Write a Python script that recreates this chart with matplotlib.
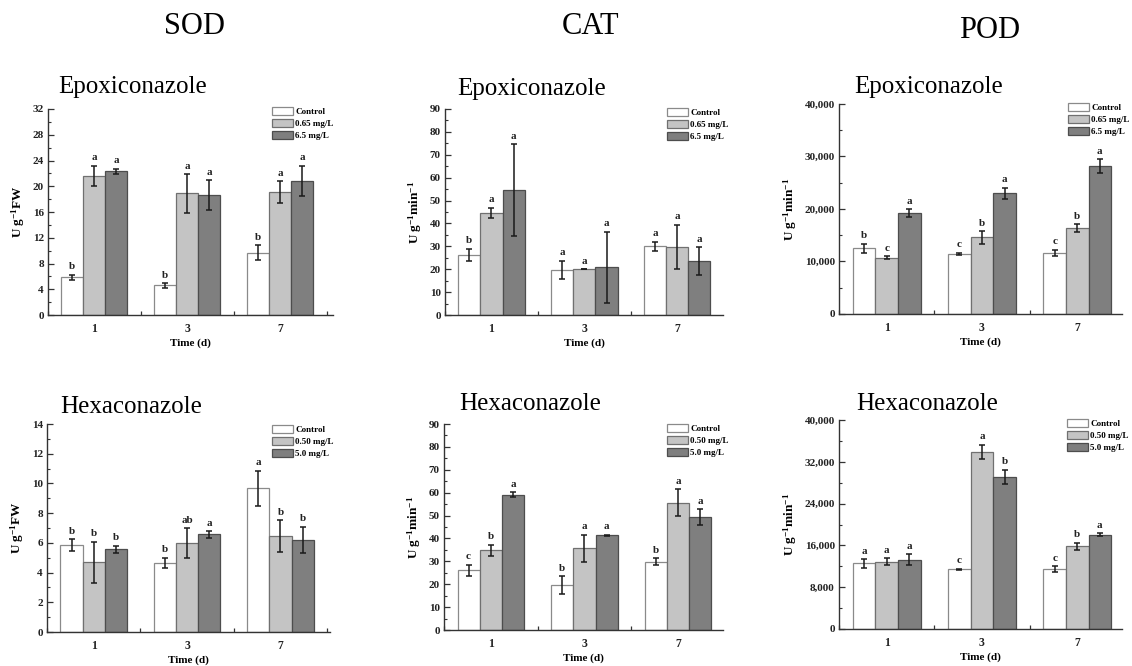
import numpy as np
import matplotlib
matplotlib.use("Agg")
import matplotlib.pyplot as plt
from matplotlib.ticker import MultipleLocator, FuncFormatter

plt.rcParams['font.family'] = ['Liberation Serif', 'DejaVu Serif']
plt.rcParams['mathtext.fontset'] = 'custom'
plt.rcParams['mathtext.rm'] = 'Liberation Serif'
plt.rcParams['mathtext.bf'] = 'Liberation Serif:bold'
plt.rcParams['mathtext.it'] = 'Liberation Serif:italic'

# ---- data -------------------------------------------------------------
days = ['1', '3', '7']
epo_labels = ['Control', '0.65 mg/L', '6.5 mg/L']
hex_labels = ['Control', '0.50 mg/L', '5.0 mg/L']

sod_epo_ctrl = [5.85, 4.6, 9.7]
sod_epo_ctrl_err = [0.4, 0.35, 1.17]
sod_epo_low = [21.6, 18.9, 19.1]
sod_epo_low_err = [1.55, 3.0, 1.66]
sod_epo_high = [22.3, 18.6, 20.85]
sod_epo_high_err = [0.4, 2.35, 2.33]
sod_epo_letters = [['b', 'b', 'b'], ['a', 'a', 'a'], ['a', 'a', 'a']]

cat_epo_ctrl = [26.2, 19.7, 30.1]
cat_epo_ctrl_err = [2.7, 4.0, 2.0]
cat_epo_low = [44.6, 20.1, 29.7]
cat_epo_low_err = [2.2, 0.0, 9.8]
cat_epo_high = [54.5, 20.8, 23.6]
cat_epo_high_err = [20.0, 15.5, 6.0]
cat_epo_letters = [['b', 'a', 'a'], ['a', 'a', 'a'], ['a', 'a', 'a']]

pod_epo_ctrl = [12500, 11450, 11600]
pod_epo_ctrl_err = [900, 200, 600]
pod_epo_low = [10700, 14600, 16400]
pod_epo_low_err = [300, 1200, 700]
pod_epo_high = [19200, 23000, 28100]
pod_epo_high_err = [800, 1050, 1330]
pod_epo_letters = [['b', 'c', 'c'], ['c', 'b', 'b'], ['a', 'a', 'a']]

sod_hex_ctrl = [5.85, 4.64, 9.68]
sod_hex_ctrl_err = [0.38, 0.35, 1.18]
sod_hex_low = [4.7, 5.99, 6.46]
sod_hex_low_err = [1.37, 1.0, 1.06]
sod_hex_high = [5.56, 6.57, 6.21]
sod_hex_high_err = [0.24, 0.22, 0.89]
sod_hex_letters = [['b', 'b', 'a'], ['b', 'ab', 'b'], ['b', 'a', 'b']]

cat_hex_ctrl = [26.0, 19.7, 29.9]
cat_hex_ctrl_err = [2.55, 3.9, 1.5]
cat_hex_low = [34.9, 35.7, 55.7]
cat_hex_low_err = [2.4, 5.9, 5.9]
cat_hex_high = [59.1, 41.4, 49.4]
cat_hex_high_err = [1.1, 0.2, 3.4]
cat_hex_letters = [['c', 'b', 'b'], ['b', 'a', 'a'], ['a', 'a', 'a']]

pod_hex_ctrl = [12550, 11400, 11470]
pod_hex_ctrl_err = [800, 130, 540]
pod_hex_low = [12870, 33900, 15800]
pod_hex_low_err = [700, 1370, 670]
pod_hex_high = [13300, 29100, 18030]
pod_hex_high_err = [1050, 1370, 250]
pod_hex_letters = [['a', 'c', 'c'], ['a', 'a', 'b'], ['a', 'b', 'a']]

# ---- figure -----------------------------------------------------------
W, H = 1132, 666
fig = plt.figure(figsize=(W / 100, H / 100), dpi=100)

fills = ['white', '#c4c4c4', '#7f7f7f']
edges = ['#8a8a8a', '#707070', '#4d4d4d']
bw = 0.237

ylab_sod = r'$\mathbf{U\ g^{-1}FW}$'
ylab_act = r'$\mathbf{U\ g^{-1}min^{-1}}$'


def px_axes(l, r, t, b):
    return fig.add_axes([l / W, 1 - b / H, (r - l) / W, (b - t) / H])


def comma(v, _):
    return f'{int(v):,}'


panels = [
    dict(box=(48, 333, 109, 315), xr=2.57, ymax=32, step=4, lab=ylab_sod,
         vals=(sod_epo_ctrl, sod_epo_low, sod_epo_high),
         errs=(sod_epo_ctrl_err, sod_epo_low_err, sod_epo_high_err),
         let=sod_epo_letters, leg=epo_labels, legpos=(272, 107),
         title='Epoxiconazole', tpos=(58, 93), fmt=None),
    dict(box=(445, 723, 109, 315), xr=2.49, ymax=90, step=10, lab=ylab_act,
         vals=(cat_epo_ctrl, cat_epo_low, cat_epo_high),
         errs=(cat_epo_ctrl_err, cat_epo_low_err, cat_epo_high_err),
         let=cat_epo_letters, leg=epo_labels, legpos=(667, 108),
         title='Epoxiconazole', tpos=(457, 95), fmt=None),
    dict(box=(839, 1122, 104, 314), xr=2.47, ymax=40000, step=10000, lab=ylab_act,
         vals=(pod_epo_ctrl, pod_epo_low, pod_epo_high),
         errs=(pod_epo_ctrl_err, pod_epo_low_err, pod_epo_high_err),
         let=pod_epo_letters, leg=epo_labels, legpos=(1068, 103),
         title='Epoxiconazole', tpos=(854, 93), fmt=comma),
    dict(box=(47, 330, 424, 632), xr=2.53, ymax=14, step=2, lab=ylab_sod,
         vals=(sod_hex_ctrl, sod_hex_low, sod_hex_high),
         errs=(sod_hex_ctrl_err, sod_hex_low_err, sod_hex_high_err),
         let=sod_hex_letters, leg=hex_labels, legpos=(272, 425),
         title='Hexaconazole', tpos=(60, 413), fmt=None),
    dict(box=(444, 723, 424, 630), xr=2.48, ymax=90, step=10, lab=ylab_act,
         vals=(cat_hex_ctrl, cat_hex_low, cat_hex_high),
         errs=(cat_hex_ctrl_err, cat_hex_low_err, cat_hex_high_err),
         let=cat_hex_letters, leg=hex_labels, legpos=(667, 424),
         title='Hexaconazole', tpos=(459, 410), fmt=None),
    dict(box=(839, 1122, 420, 629), xr=2.47, ymax=40000, step=8000, lab=ylab_act,
         vals=(pod_hex_ctrl, pod_hex_low, pod_hex_high),
         errs=(pod_hex_ctrl_err, pod_hex_low_err, pod_hex_high_err),
         let=pod_hex_letters, leg=hex_labels, legpos=(1067, 419),
         title='Hexaconazole', tpos=(856, 410), fmt=comma),
]

x = np.arange(len(days))
for p in panels:
    ax = px_axes(*p['box'])
    handles = []
    for i in range(3):
        pos = x + (i - 1) * bw
        bars = ax.bar(pos, p['vals'][i], width=bw, color=fills[i],
                      edgecolor=edges[i], linewidth=0.9, zorder=2,
                      label=p['leg'][i])
        handles.append(bars)
        ax.errorbar(pos, p['vals'][i], yerr=p['errs'][i], fmt='none',
                    ecolor='#1a1a1a', elinewidth=1.1, capsize=2.3,
                    capthick=1.1, zorder=3)
        for xi, v, e, t in zip(pos, p['vals'][i], p['errs'][i], p['let'][i]):
            ax.annotate(t, (xi, v + e), xytext=(0, 2.5),
                        textcoords='offset points', ha='center', va='bottom',
                        fontsize=8, fontweight='bold', color='#222222')

    ax.set_xlim(-0.5, p['xr'])
    ax.set_ylim(0, p['ymax'])
    ax.set_xticks(x)
    ax.set_xticklabels(days)
    ax.xaxis.set_minor_locator(MultipleLocator(0.25))
    ax.yaxis.set_major_locator(MultipleLocator(p['step']))
    ax.yaxis.set_minor_locator(MultipleLocator(p['step'] / 2))
    if p['fmt'] is not None:
        ax.yaxis.set_major_formatter(FuncFormatter(p['fmt']))

    for s in ('top', 'right'):
        ax.spines[s].set_visible(False)
    for s in ('left', 'bottom'):
        ax.spines[s].set_color('#333333')
        ax.spines[s].set_linewidth(1.0)

    ax.tick_params(axis='both', which='both', direction='in', color='#333333')
    ax.tick_params(axis='y', which='major', length=4, width=0.9, pad=3,
                   labelsize=8)
    ax.tick_params(axis='y', which='minor', length=2, width=0.8)
    ax.tick_params(axis='x', which='major', length=3, width=0.9, pad=6,
                   labelsize=8.5)
    ax.tick_params(axis='x', which='minor', length=3, width=0.9)
    for lbl in ax.get_yticklabels() + ax.get_xticklabels():
        lbl.set_fontweight('bold')
        lbl.set_color('#222222')
    for tk in ax.xaxis.get_major_ticks():
        tk.tick1line.set_zorder(4)

    ax.set_xlabel('Time (d)', fontsize=8, fontweight='bold', labelpad=2.5)
    ax.set_ylabel(p['lab'], fontsize=9.5, labelpad=4)

    lx, ly = p['legpos']
    ax.legend(handles=handles, loc='upper left',
              bbox_to_anchor=(lx / W, 1 - ly / H),
              bbox_transform=fig.transFigure, frameon=False,
              prop={'size': 6.5, 'weight': 'bold'}, borderpad=0,
              borderaxespad=0, handlelength=2.3, handleheight=0.95,
              handletextpad=0.25, labelspacing=0.35)

    tx, ty = p['tpos']
    fig.text(tx / W, 1 - ty / H, p['title'], ha='left', va='baseline',
             fontsize=18)

for name, cx, cy in [('SOD', 195, 27), ('CAT', 591, 27), ('POD', 990, 30)]:
    fig.text(cx / W, 1 - cy / H, name, ha='center', va='center', fontsize=22)

fig.savefig('out.png', dpi=100)
